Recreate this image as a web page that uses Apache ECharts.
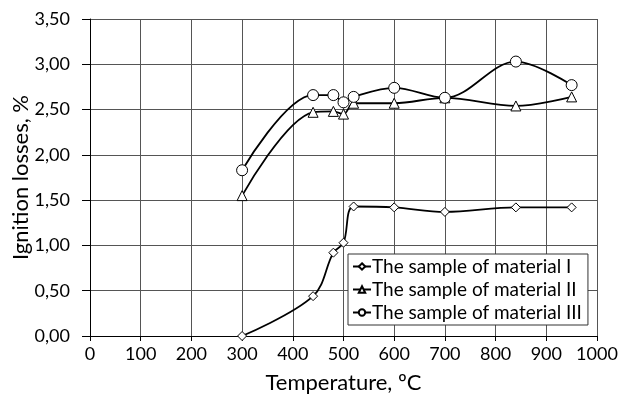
<!DOCTYPE html>
<html><head><meta charset="utf-8">
<script src="https://cdn.jsdelivr.net/npm/echarts@6/dist/echarts.min.js"></script>
<style>html,body{margin:0;padding:0;background:#fff}#c{width:620px;height:403px}</style>
</head><body><div id="c"></div>
<script>
const temps1 = [300, 440, 480, 500, 520, 600, 700, 840, 950];
const material1 = [0.00, 0.44, 0.92, 1.03, 1.43, 1.42, 1.37, 1.42, 1.42];
const temps2 = [300, 440, 480, 500, 520, 600, 700, 840, 950];
const material2 = [1.55, 2.47, 2.48, 2.45, 2.57, 2.57, 2.63, 2.54, 2.64];
const temps3 = [300, 440, 480, 500, 520, 600, 700, 840, 950];
const material3 = [1.83, 2.66, 2.66, 2.58, 2.64, 2.74, 2.63, 3.03, 2.77];
const seriesNames = ['The sample of material I', 'The sample of material II', 'The sample of material III'];
const xTicks = [0, 100, 200, 300, 400, 500, 600, 700, 800, 900, 1000];
const yTicks = [0, 0.5, 1, 1.5, 2, 2.5, 3, 3.5];

const font = 'Lato';
function pairs(xs, ys) { return xs.map((x, i) => [x, ys[i]]); }
const chart = echarts.init(document.getElementById('c'), null, {renderer: 'canvas'});
const mk = (name, xs, ys, symbol, size) => ({
  name, type: 'line', data: pairs(xs, ys), smooth: 0.35,
  symbol, symbolSize: size, showSymbol: true,
  lineStyle: {color: '#000', width: 1.8},
  itemStyle: {color: '#fff', borderColor: '#000', borderWidth: 1},
  emphasis: {disabled: true}, animation: false
});
chart.setOption({
  animation: false,
  grid: {left: 90, right: 23, top: 19, bottom: 67, containLabel: false, outerBoundsMode: 'none'},
  xAxis: {
    type: 'value', min: xTicks[0], max: xTicks[xTicks.length - 1], interval: xTicks[1] - xTicks[0],
    name: 'Temperature, ºC', nameLocation: 'middle', nameGap: 36, nameMoveOverlap: false,
    nameTextStyle: {fontFamily: font, fontSize: 22, color: '#000'},
    axisLine: {show: true, onZero: false, lineStyle: {color: '#000', width: 1}},
    axisTick: {show: true, length: 5, lineStyle: {color: '#000'}},
    axisLabel: {fontFamily: font, fontSize: 18, color: '#000', margin: 9, formatter: v => String(v)},
    splitLine: {show: true, lineStyle: {color: '#555', width: 1}}
  },
  yAxis: {
    type: 'value', min: yTicks[0], max: yTicks[yTicks.length - 1], interval: yTicks[1] - yTicks[0],
    name: 'Ignition losses, %', nameLocation: 'middle', nameGap: 58, nameRotate: 90, nameMoveOverlap: false,
    nameTextStyle: {fontFamily: font, fontSize: 22, color: '#000'},
    axisLine: {show: true, lineStyle: {color: '#000', width: 1}},
    axisTick: {show: true, length: 8, lineStyle: {color: '#000'}},
    axisLabel: {fontFamily: font, fontSize: 18, color: '#000', margin: 20,
      formatter: v => v.toFixed(2).replace('.', ',')},
    splitLine: {show: true, lineStyle: {color: '#555', width: 1}}
  },
  legend: {
    orient: 'vertical', left: 348, top: 254,
    data: seriesNames,
    backgroundColor: '#fff', borderColor: '#333', borderWidth: 1,
    padding: [3, 6, 3, 4], itemGap: 4, itemWidth: 18, itemHeight: 8,
    textStyle: {fontFamily: font, fontSize: 19, color: '#000', padding: [0, 0, 0, -4]}
  },
  series: [
    mk(seriesNames[0], temps1, material1, 'diamond', 9),
    mk(seriesNames[1], temps2, material2, 'triangle', 10),
    mk(seriesNames[2], temps3, material3, 'circle', 11)
  ]
});
</script></body></html>
